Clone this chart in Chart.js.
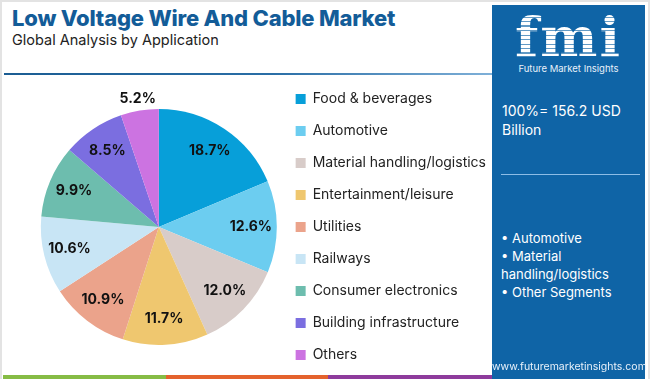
<!DOCTYPE html>
<html>
<head>
<meta charset="utf-8">
<script src="https://cdn.jsdelivr.net/npm/chart.js@4.4.1/dist/chart.umd.min.js"></script>
<style>
  html, body { margin:0; padding:0; }
  body { width:650px; height:379px; position:relative; overflow:hidden; background:#fff; font-family: Inter, "Open Sans", sans-serif; }
  #frame { position:absolute; left:0; top:0; width:646px; height:377px; border:2px solid #e3e3e3; border-bottom:none; }
  #title { position:absolute; left:12px; top:5px; font-size:22px; font-weight:800; color:#135c98; letter-spacing:-0.2px; white-space:nowrap; }
  #subtitle { position:absolute; left:12px; top:31px; font-size:14.5px; color:#222; white-space:nowrap; }
  #hline { position:absolute; left:4px; top:73px; width:488px; height:2px; background:linear-gradient(90deg,#1b5d93 0%,#2a6ea6 55%,#7fb0d8 100%); }
  #chartbox { position:absolute; left:0; top:74px; width:496px; height:306px; }
  #panel { position:absolute; left:492px; top:5px; width:153px; height:374px; background:#0f64a6; color:#fff; }
  #logo { position:absolute; left:0; top:4px; width:153px; text-align:center; font-family:"DejaVu Serif", serif; font-weight:bold; font-size:54px; line-height:56px;
          background:repeating-linear-gradient(180deg,#fff 0px,#fff 3px,rgba(255,255,255,0.35) 3px,rgba(255,255,255,0.35) 4.5px); -webkit-background-clip:text; background-clip:text; color:transparent; letter-spacing:2px; }
  #logosub { position:absolute; left:0; top:58px; width:153px; text-align:center; font-size:9.5px; color:#e8f1fa; }
  #total { position:absolute; left:10px; top:96px; font-size:14px; line-height:19px; }
  #divline { position:absolute; left:9px; top:169px; width:139px; height:1px; background:#8dbde6; }
  #bullets { position:absolute; left:9px; top:224px; font-size:13px; line-height:18px; }
  #url { position:absolute; left:0; top:355px; width:153px; text-align:center; font-size:10.5px; color:#e8f1fa; }
  .strip { position:absolute; top:375px; height:4px; }
</style>
</head>
<body>
<div id="frame"></div>
<div id="title">Low Voltage Wire And Cable Market</div>
<div id="subtitle">Global Analysis by Application</div>
<div id="hline"></div>
<div id="chartbox"><canvas id="c"></canvas></div>
<div class="strip" style="left:3px;width:163px;background:#86bc45"></div>
<div class="strip" style="left:166px;width:162px;background:#e4622d"></div>
<div class="strip" style="left:328px;width:164px;background:#8e3b9c"></div>
<div id="panel">
  <div id="logo">fmi</div>
  <div id="logosub">Future Market Insights</div>
  <div id="total">100%= 156.2 USD<br>Billion</div>
  <div id="divline"></div>
  <div id="bullets">• Automotive<br>• Material<br>handling/logistics<br>• Other Segments</div>
  <div id="url">www.futuremarketinsights.com</div>
</div>
<script>
const categories = ["Food & beverages","Automotive","Material handling/logistics","Entertainment/leisure","Utilities","Railways","Consumer electronics","Building infrastructure","Others"];
const shares = [18.7, 12.6, 12.0, 11.7, 10.9, 10.6, 9.9, 8.5, 5.2];
const sliceColors = ["#079fd9","#6ccdf0","#d8ccc9","#efc76f","#eba38b","#c8e5f5","#6dbdae","#7b6ee0","#cc73e1"];

const labelPlugin = {
  id: 'sliceLabels',
  afterDatasetsDraw(chart) {
    const ctx = chart.ctx;
    const meta = chart.getDatasetMeta(0);
    ctx.save();
    ctx.font = 'bold 14px Inter, "Open Sans", sans-serif';
    ctx.fillStyle = '#111';
    ctx.textAlign = 'center';
    ctx.textBaseline = 'middle';
    meta.data.forEach((arc, i) => {
      const p = arc.getProps(['x','y','startAngle','endAngle','outerRadius'], true);
      const mid = (p.startAngle + p.endAngle) / 2;
      const v = chart.data.datasets[0].data[i];
      const r = v < 6 ? p.outerRadius * 1.1 : p.outerRadius * 0.78;
      ctx.fillText(v.toFixed(1) + '%', p.x + Math.cos(mid) * r, p.y + Math.sin(mid) * r);
    });
    ctx.restore();
  }
};

Chart.defaults.font.family = 'Inter, "Open Sans", sans-serif';
new Chart(document.getElementById('c'), {
  type: 'pie',
  data: {
    labels: categories,
    datasets: [{ data: shares, backgroundColor: sliceColors, borderWidth: 0, radius: 118 }]
  },
  options: {
    responsive: true,
    maintainAspectRatio: false,
    animation: false,
    layout: { padding: { left: 40 } },
    plugins: {
      tooltip: { enabled: false },
      legend: {
        position: 'right',
        align: 'center',
        labels: { boxWidth: 10, boxHeight: 10, padding: 18, color: '#222', font: { size: 14 } }
      }
    }
  },
  plugins: [labelPlugin]
});
</script>
</body>
</html>
